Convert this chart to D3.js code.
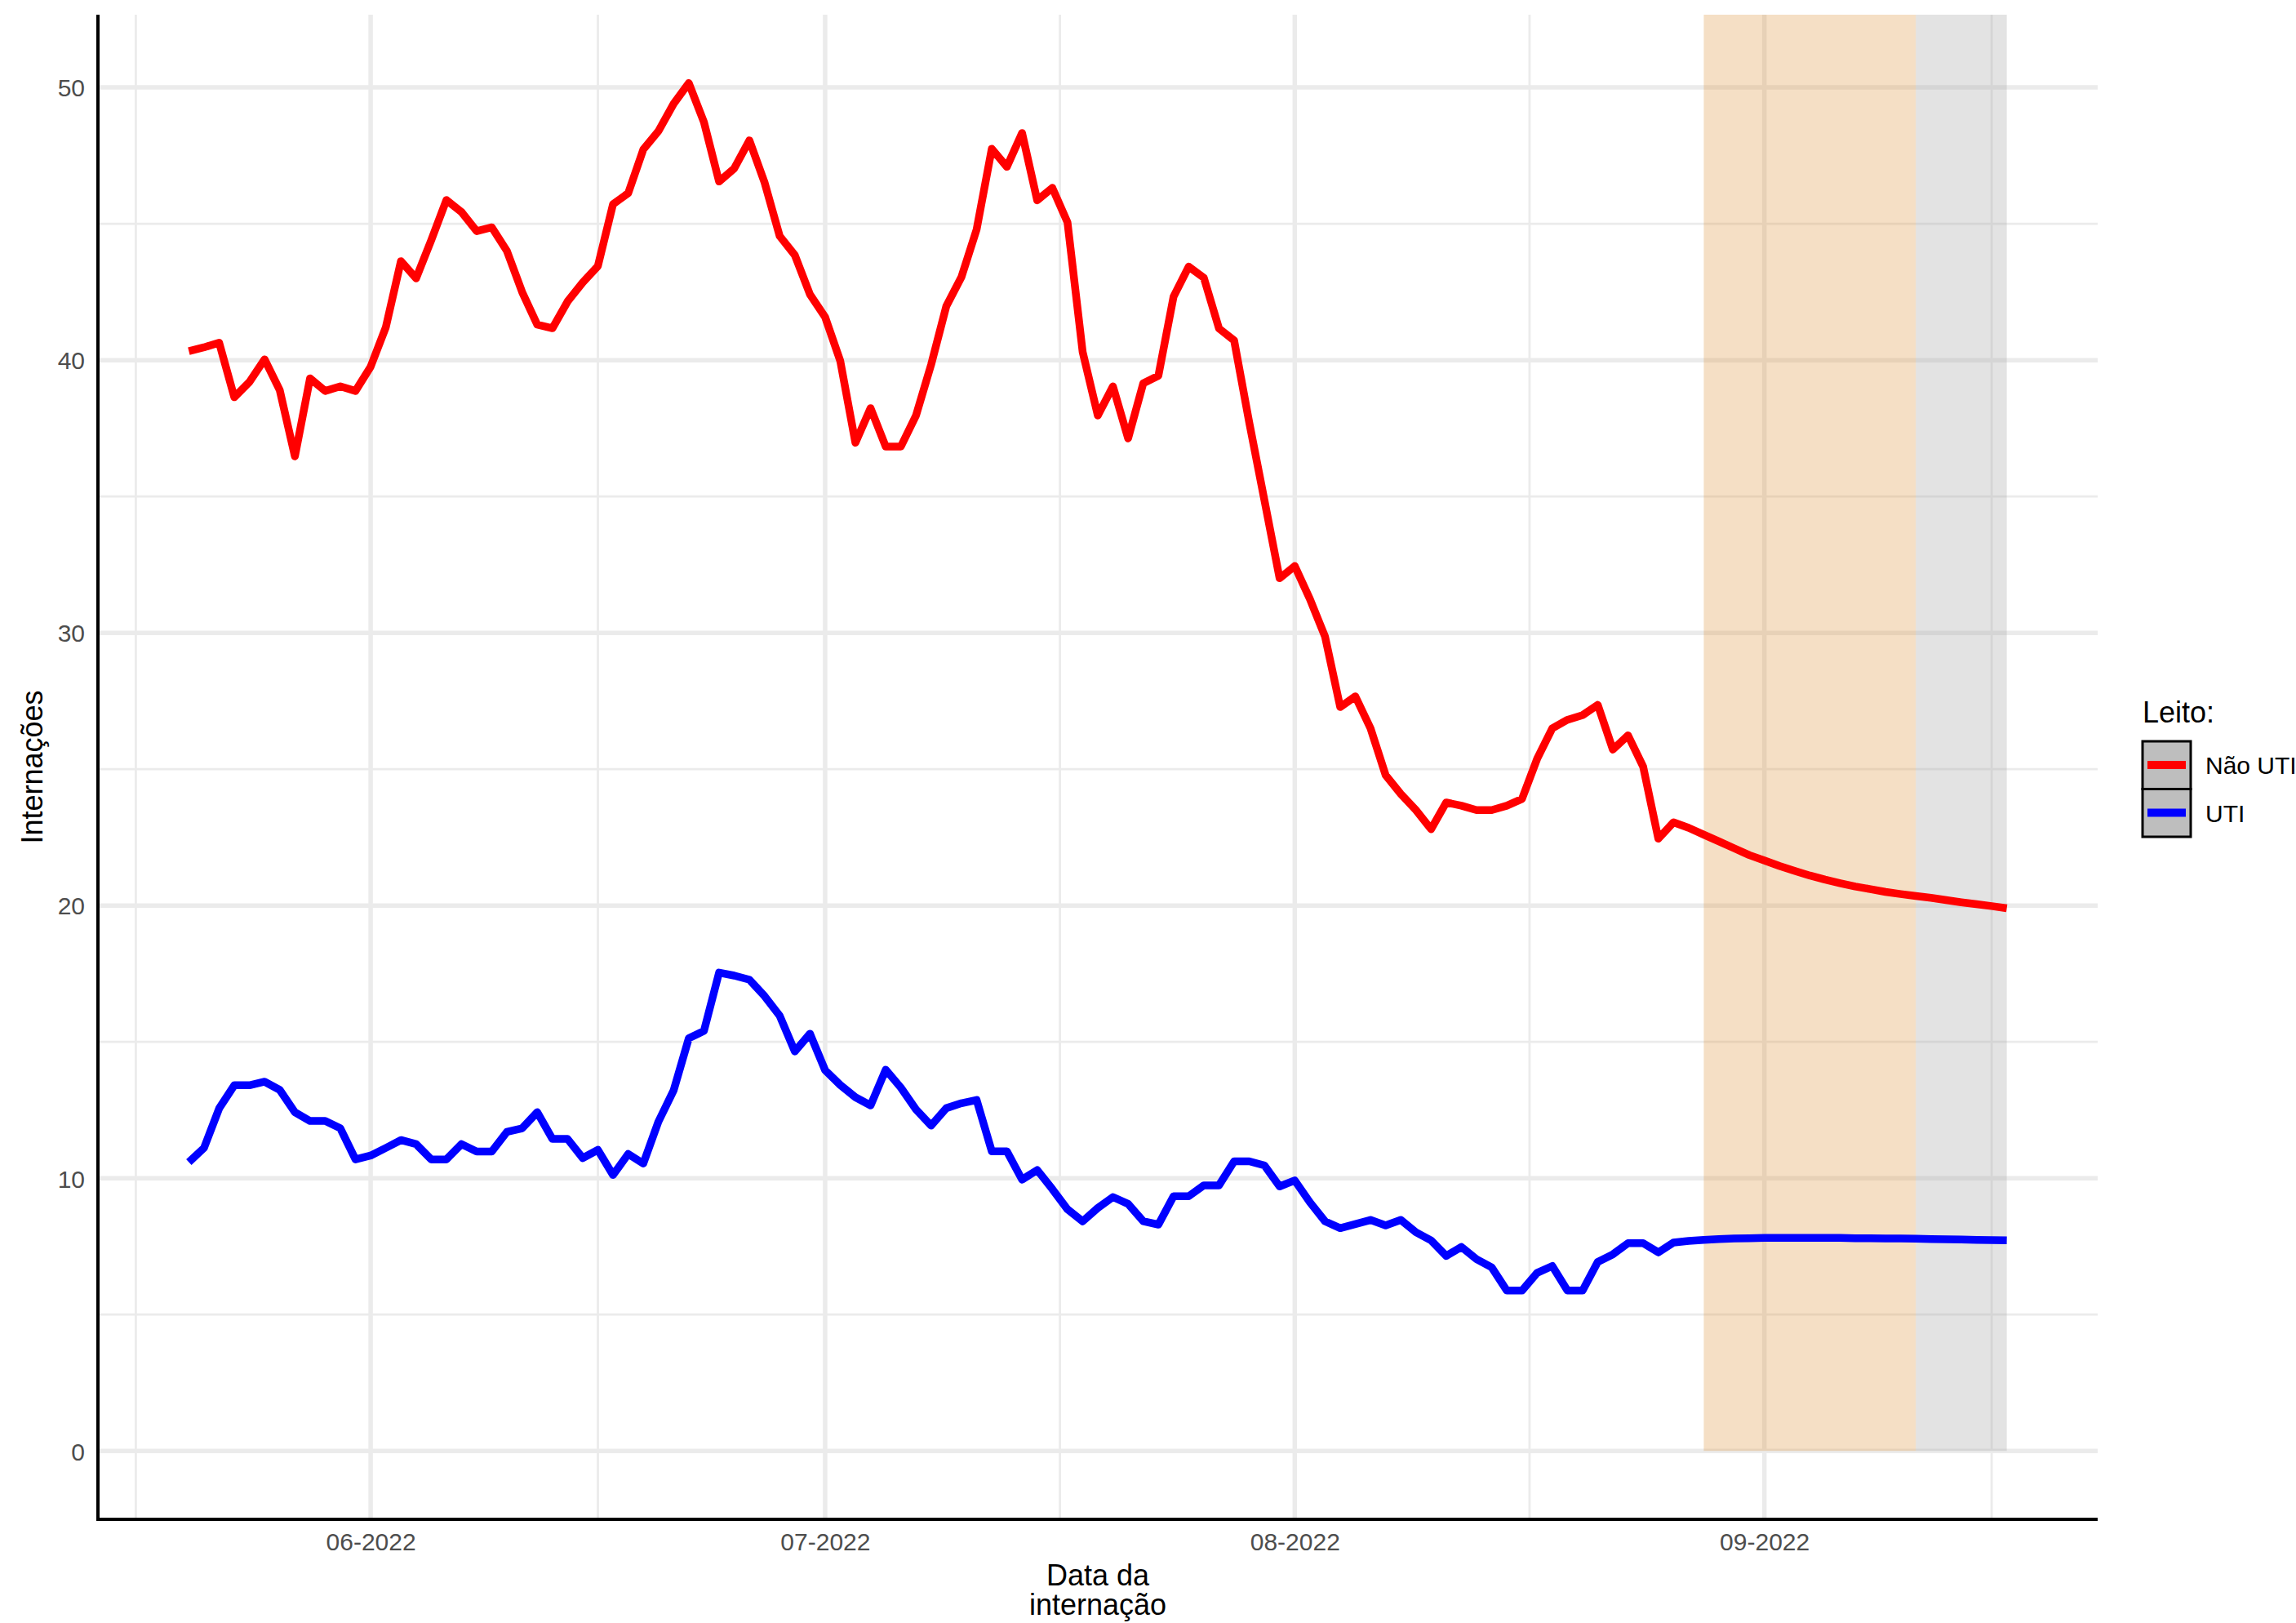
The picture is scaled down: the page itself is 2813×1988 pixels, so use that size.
<!DOCTYPE html>
<html>
<head>
<meta charset="utf-8">
<script src="https://cdn.jsdelivr.net/npm/d3@7"></script>
<style>
  html, body { margin: 0; padding: 0; background: #ffffff; }
  svg { display: block; font-family: "Liberation Sans", Arial, Helvetica, sans-serif; }
</style>
</head>
<body>
<svg id="chart" width="2813" height="1988"></svg>
<script>
// Daily admissions by bed type, observed from 2022-05-20 to 2022-08-26
const firstDay = "2022-05-20";
const naoUtiObserved = [
  40.33, 40.47, 40.64, 38.64, 39.2, 40.03, 38.9, 36.47, 39.33, 38.87, 39.04, 38.87,
  39.76, 41.2, 43.63, 43.0, 44.4, 45.87, 45.43, 44.73, 44.87, 44.0,
  42.5, 41.3, 41.17, 42.15, 42.85, 43.45, 45.72, 46.12, 47.73, 48.4,
  49.4, 50.16, 48.73, 46.55, 47.03, 48.06, 46.52, 44.55, 43.85, 42.41,
  41.58, 39.97, 36.97, 38.24, 36.83, 36.83, 37.97, 39.84, 41.98, 43.05,
  44.79, 47.75, 47.09, 48.33, 45.86, 46.32, 45.05, 40.3, 37.97, 39.04,
  37.13, 39.15, 39.43, 42.33, 43.43, 43.02, 41.16, 40.72, 37.7, 34.86,
  32.0, 32.45, 31.24, 29.86, 27.28, 27.67, 26.5, 24.78, 24.09, 23.5,
  22.8, 23.78, 23.66, 23.5, 23.5, 23.66, 23.91, 25.38, 26.5, 26.81,
  26.98, 27.36, 25.72, 26.24, 25.09, 22.45, 23.05
];
const utiObserved = [
  10.59, 11.11, 12.56, 13.41, 13.41, 13.54, 13.24, 12.42, 12.1, 12.1, 11.83, 10.69,
  10.83, 11.11, 11.4, 11.25, 10.69, 10.69, 11.25, 10.98, 10.98, 11.7,
  11.83, 12.42, 11.44, 11.44, 10.74, 11.04, 10.12, 10.89, 10.54, 12.08,
  13.22, 15.13, 15.4, 17.54, 17.43, 17.28, 16.68, 15.96, 14.65, 15.3,
  13.96, 13.42, 12.97, 12.67, 13.98, 13.32, 12.52, 11.93, 12.57, 12.75,
  12.87, 10.99, 10.99, 9.95, 10.3, 9.6, 8.86, 8.42, 8.91, 9.31,
  9.06, 8.42, 8.3, 9.34, 9.34, 9.74, 9.74, 10.62, 10.62, 10.47,
  9.7, 9.92, 9.12, 8.42, 8.17, 8.32, 8.47, 8.27, 8.47, 8.02,
  7.72, 7.15, 7.48, 7.03, 6.73, 5.88, 5.88, 6.53, 6.78, 5.88,
  5.88, 6.93, 7.21, 7.62, 7.62, 7.28, 7.64
];

// Nowcast continuation from 2022-08-26 to 2022-09-17
const forecastFirstDay = "2022-08-26";
const naoUtiForecast = [
  23.05, 22.85, 22.6, 22.35, 22.1, 21.85, 21.65, 21.45, 21.27, 21.1, 20.95, 20.82,
  20.7, 20.6, 20.5, 20.42, 20.35, 20.28, 20.2, 20.12, 20.05, 19.98, 19.9
];
const utiForecast = [
  7.64, 7.7, 7.74, 7.77, 7.79, 7.8, 7.81, 7.81, 7.81, 7.81, 7.81, 7.81,
  7.8, 7.8, 7.79, 7.79, 7.78, 7.77, 7.76, 7.75, 7.74, 7.73, 7.72
];

// Shaded windows of incomplete reporting
const bandStarts = ["2022-08-28", "2022-09-11"];
const bandEnds = ["2022-09-11", "2022-09-17"];
const bandFills = ["#de943e", "#a3a3a3"];

const seriesNames = ["Não UTI", "UTI"];
const seriesColors = ["#ff0000", "#0000ff"];

const yTicks = [0, 10, 20, 30, 40, 50];
const yMinor = [5, 15, 25, 35, 45];
const xTickLabels = ["06-2022", "07-2022", "08-2022", "09-2022"];

// ---- layout ----
const W = 2813, H = 1988;
const panel = { left: 120, right: 2570, top: 18, bottom: 1861 };

const parse = d3.utcParse("%Y-%m-%d");
const start = parse(firstDay);
const fStart = parse(forecastFirstDay);

const obsDates = naoUtiObserved.map((_, i) => d3.utcDay.offset(start, i));
const fcDates = naoUtiForecast.map((_, i) => d3.utcDay.offset(fStart, i));

const lastDay = fcDates[fcDates.length - 1];
const spanDays = d3.utcDay.count(start, lastDay);
const pad = spanDays * 0.05;
const x = d3.scaleUtc()
  .domain([d3.utcHour.offset(start, -pad * 24), d3.utcHour.offset(lastDay, pad * 24)])
  .range([panel.left, panel.right]);

const yMaxData = d3.max(naoUtiObserved);
const yPad = (yMaxData - 0) * 0.05;
const y = d3.scaleLinear()
  .domain([0 - yPad, yMaxData + yPad])
  .range([panel.bottom, panel.top]);

const svg = d3.select("#chart");

// ---- grid ----
const grid = svg.append("g");
const monthTicks = d3.utcMonth.range(d3.utcMonth.floor(x.domain()[0]), d3.utcMonth.offset(x.domain()[1], 1));
const xMajor = monthTicks.filter(d => d >= x.domain()[0] && d <= x.domain()[1]);
const xMinorTicks = [];
for (let i = 0; i < monthTicks.length - 1; i++) {
  const mid = new Date((monthTicks[i].getTime() + monthTicks[i + 1].getTime()) / 2);
  if (mid >= x.domain()[0] && mid <= x.domain()[1]) xMinorTicks.push(mid);
}

grid.selectAll("line.ymin").data(yMinor).join("line")
  .attr("x1", panel.left).attr("x2", panel.right)
  .attr("y1", d => y(d)).attr("y2", d => y(d))
  .attr("stroke", "#ebebeb").attr("stroke-width", 2.8);
grid.selectAll("line.xmin").data(xMinorTicks).join("line")
  .attr("y1", panel.top).attr("y2", panel.bottom)
  .attr("x1", d => x(d)).attr("x2", d => x(d))
  .attr("stroke", "#ebebeb").attr("stroke-width", 2.8);
grid.selectAll("line.ymaj").data(yTicks).join("line")
  .attr("x1", panel.left).attr("x2", panel.right)
  .attr("y1", d => y(d)).attr("y2", d => y(d))
  .attr("stroke", "#ebebeb").attr("stroke-width", 5.5);
grid.selectAll("line.xmaj").data(xMajor).join("line")
  .attr("y1", panel.top).attr("y2", panel.bottom)
  .attr("x1", d => x(d)).attr("x2", d => x(d))
  .attr("stroke", "#ebebeb").attr("stroke-width", 5.5);

// ---- shaded bands ----
svg.append("g").selectAll("rect").data(bandStarts.map((s, i) => ({ s: parse(s), e: parse(bandEnds[i]), fill: bandFills[i] })))
  .join("rect")
  .attr("x", d => x(d.s))
  .attr("width", d => x(d.e) - x(d.s))
  .attr("y", panel.top)
  .attr("height", y(0) - panel.top)
  .attr("fill", d => d.fill)
  .attr("fill-opacity", 0.3);

// ---- lines ----
const line = d3.line().x(d => x(d.date)).y(d => y(d.value));
const seriesData = [
  obsDates.map((d, i) => ({ date: d, value: naoUtiObserved[i] }))
    .concat(fcDates.slice(1).map((d, i) => ({ date: d, value: naoUtiForecast[i + 1] }))),
  obsDates.map((d, i) => ({ date: d, value: utiObserved[i] }))
    .concat(fcDates.slice(1).map((d, i) => ({ date: d, value: utiForecast[i + 1] })))
];
svg.append("g").selectAll("path").data(seriesData).join("path")
  .attr("d", line)
  .attr("fill", "none")
  .attr("stroke", (d, i) => seriesColors[i])
  .attr("stroke-width", 9.5)
  .attr("stroke-linejoin", "round");

// ---- axes ----
const xAxis = svg.append("g").attr("transform", `translate(0,${panel.bottom})`)
  .call(d3.axisBottom(x).tickValues(xMajor).tickFormat(d3.utcFormat("%m-%Y")).tickSize(0).tickPadding(38));
const yAxis = svg.append("g").attr("transform", `translate(${panel.left},0)`)
  .call(d3.axisLeft(y).tickValues(yTicks).tickFormat(d3.format("d")).tickSize(0).tickPadding(16));
[xAxis, yAxis].forEach(a => {
  a.select(".domain").remove();
  a.selectAll("text").attr("fill", "#4d4d4d").attr("font-size", 30)
    .attr("font-family", "'Liberation Sans', Arial, sans-serif");
});
xAxis.selectAll("text").attr("dy", 0);
yAxis.selectAll("text").attr("dy", "0.36em");

svg.append("line")
  .attr("x1", panel.left).attr("x2", panel.right)
  .attr("y1", panel.bottom).attr("y2", panel.bottom)
  .attr("stroke", "#000").attr("stroke-width", 4);
svg.append("line")
  .attr("x1", panel.left).attr("x2", panel.left)
  .attr("y1", panel.top).attr("y2", panel.bottom + 2)
  .attr("stroke", "#000").attr("stroke-width", 4);

// ---- titles ----
const cx = (panel.left + panel.right) / 2;
const xt = svg.append("text").attr("text-anchor", "middle").attr("font-size", 36).attr("fill", "#000");
xt.append("tspan").attr("x", cx).attr("y", 1942).text("Data da");
xt.append("tspan").attr("x", cx).attr("y", 1978).text("internação");

svg.append("text")
  .attr("transform", `translate(52,${(panel.top + panel.bottom) / 2}) rotate(-90)`)
  .attr("text-anchor", "middle").attr("font-size", 36).attr("fill", "#000")
  .text("Internações");

// ---- legend ----
const lg = svg.append("g").attr("transform", "translate(2625,0)");
lg.append("text").attr("x", 0).attr("y", 885).attr("font-size", 36).attr("fill", "#000").text("Leito:");
seriesNames.forEach((name, i) => {
  const top = 908 + i * 58.5;
  lg.append("rect").attr("x", 0).attr("y", top).attr("width", 59).attr("height", 58.5)
    .attr("fill", "#bebebe").attr("stroke", "#000").attr("stroke-width", 3);
  lg.append("line").attr("x1", 6).attr("x2", 53).attr("y1", top + 29).attr("y2", top + 29)
    .attr("stroke", seriesColors[i]).attr("stroke-width", 10);
  lg.append("text").attr("x", 77).attr("y", top + 40).attr("font-size", 30).attr("fill", "#000").text(name);
});
</script>
</body>
</html>
